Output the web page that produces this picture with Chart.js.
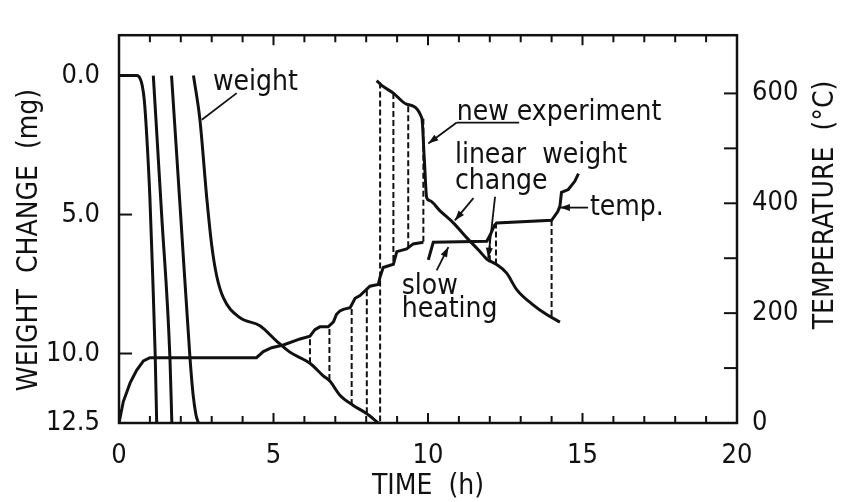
<!DOCTYPE html>
<html>
<head>
<meta charset="utf-8">
<script src="https://cdn.jsdelivr.net/npm/chart.js@4.4.1/dist/chart.umd.min.js"></script>
<style>
  body { margin: 0; background: #fff; }
  canvas { display: block; }
</style>
</head>
<body>
<canvas id="chart" width="844" height="502"></canvas>
<script>
// tick labels
const timeTicks = [0, 5, 10, 15, 20];
const weightTicks = [0, 5, 10, 12.5];
const tempTicks = [0, 200, 400, 600];
const hourMarks = [1, 2, 3, 4, 5, 6, 7, 8, 9, 10, 11, 12, 13, 14, 15, 16, 17, 18, 19];
const weightMarks = [0, 5, 10];
const tempMarks = [100, 200, 300, 400, 500, 600];

// weight curves (h, mg)
const timeA = [0, 0.58, 0.68, 0.75, 0.82, 0.9, 1.0, 1.09, 1.17, 1.22];
const weightA = [0, 0, 0.1, 0.35, 0.9, 2.2, 4.4, 7.2, 10.0, 12.5];
const timeB = [1.11, 1.38, 1.65, 1.71];
const weightB = [0, 5.0, 10.2, 12.5];
const timeC = [1.70, 2.0, 2.30, 2.40, 2.49, 2.57];
const weightC = [0, 5.1, 10.2, 11.5, 12.2, 12.5];
const timeE = [2.41, 2.62, 2.84, 3.0, 3.16, 3.38, 3.9, 4.56, 5.1, 5.53, 6.18, 6.61, 6.83, 7.15, 7.57, 8.0, 8.39];
const weightE = [0, 1.6, 4.4, 6.1, 7.2, 8.0, 8.7, 9.0, 9.55, 9.95, 10.35, 10.8, 11.0, 11.5, 11.86, 12.15, 12.5];
const timeE2 = [8.34, 8.5, 8.88, 9.31, 9.8, 9.88, 9.96, 10.06, 10.39, 10.82, 11.25, 11.68, 11.9, 12.22, 12.54, 12.87, 13.4, 13.84, 14.27];
const weightE2 = [0.18, 0.35, 0.63, 1.03, 1.53, 3.0, 4.4, 4.5, 4.87, 5.3, 5.83, 6.33, 6.6, 6.8, 7.1, 7.7, 8.25, 8.6, 8.87];

// temperature (h, °C)
const tempTime = [0, 0.14, 0.36, 0.57, 0.79, 1.0, 4.45, 4.67, 4.94, 5.32, 5.86, 6.18, 6.34, 6.5, 6.77, 6.94, 7.04, 7.15, 7.26, 7.48, 7.64, 7.8, 8.12, 8.39, 8.45, 8.55, 8.88, 8.99, 9.31, 9.52, 9.85];
const tempVal = [0, 39, 73, 96, 113, 119, 119, 130, 137, 142, 153, 158, 170, 175, 175, 184, 198, 204, 207, 210, 227, 232, 249, 252, 266, 283, 289, 312, 317, 326, 329];
const temp2Time = [10.01, 10.17, 11.9, 12.02, 12.15, 12.22, 14.0, 14.2, 14.27, 14.32, 14.54, 14.75, 14.87];
const temp2Val = [297, 329, 331, 343, 360, 364, 369, 385, 395, 420, 425, 440, 454];

// dashed verticals: weight end (mg) to temperature end (°C)
const dashTime = [6.18, 6.81, 7.53, 8.02, 8.45, 8.88, 9.36, 9.85, 12.0, 12.2, 14.0];
const dashWeight = [10.35, 10.95, 11.85, 12.15, 0.25, 0.63, 1.1, 1.55, 6.68, 6.8, 8.65];
const dashTemp = [158, 175, 215, 243, 0, 289, 318, 329, 343, 363, 369];

const FONT = '"DejaVu Sans Condensed", "DejaVu Sans", sans-serif';
const INK = '#111';

// labels written on the plot (h, mg)
const notes = [
  { text: 'weight', x: 3.04, w: 0.24 },
  { text: 'new experiment', x: 10.93, w: 1.32 },
  { text: 'linear  weight', x: 10.87, w: 2.88 },
  { text: 'change', x: 10.87, w: 3.83 },
  { text: 'temp.', x: 15.24, w: 4.74 },
  { text: 'slow', x: 9.15, w: 7.59 },
  { text: 'heating', x: 9.15, w: 8.43 }
];
const leaders = [
  { from: [3.81, 0.63], to: [2.68, 1.59], arrow: false },
  { from: [10.93, 1.69], to: [12.95, 1.69], arrow: false },
  { from: [10.93, 1.69], to: [10.01, 2.44], arrow: true },
  { from: [11.47, 4.41], to: [10.87, 5.21], arrow: true },
  { from: [12.17, 4.36], to: [11.95, 6.56], arrow: true },
  { from: [15.18, 4.75], to: [14.27, 4.75], arrow: true },
  { from: [10.28, 7.01], to: [10.66, 6.17], arrow: true }
];

const pts = (xs, ys) => xs.map((x, i) => ({ x, y: ys[i] }));
const weightLine = (xs, ys) => ({
  data: pts(xs, ys), yAxisID: 'w', borderColor: INK, borderWidth: 3,
  pointRadius: 0, fill: false, cubicInterpolationMode: 'monotone'
});
const tempLine = (xs, ys) => ({
  data: pts(xs, ys), yAxisID: 't', borderColor: INK, borderWidth: 3,
  pointRadius: 0, fill: false, tension: 0
});

const extras = {
  id: 'extras',
  afterDatasetsDraw(chart) {
    const { ctx, chartArea: a, scales: { x, w, t } } = chart;
    ctx.save();
    ctx.strokeStyle = INK;
    ctx.fillStyle = INK;
    ctx.lineCap = 'butt';

    // dashed connectors
    ctx.setLineDash([6, 3]);
    ctx.lineWidth = 2;
    dashTime.forEach((h, i) => {
      const px = x.getPixelForValue(h);
      ctx.beginPath();
      ctx.moveTo(px, w.getPixelForValue(dashWeight[i]));
      ctx.lineTo(px, t.getPixelForValue(dashTemp[i]));
      ctx.stroke();
    });
    ctx.setLineDash([]);

    // frame + inner ticks
    ctx.lineWidth = 2.5;
    ctx.strokeRect(a.left, a.top, a.right - a.left, a.bottom - a.top);
    ctx.lineWidth = 2;
    hourMarks.forEach(h => {
      const px = x.getPixelForValue(h);
      const len = h % 5 === 0 ? 10 : 7;
      ctx.beginPath();
      ctx.moveTo(px, a.bottom); ctx.lineTo(px, a.bottom - len);
      ctx.moveTo(px, a.top); ctx.lineTo(px, a.top + len);
      ctx.stroke();
    });
    weightMarks.forEach(v => {
      const py = w.getPixelForValue(v);
      ctx.beginPath(); ctx.moveTo(a.left, py); ctx.lineTo(a.left + 13, py); ctx.stroke();
    });
    tempMarks.forEach(v => {
      const py = t.getPixelForValue(v);
      ctx.beginPath(); ctx.moveTo(a.right, py); ctx.lineTo(a.right - 13, py); ctx.stroke();
    });

    // leader lines
    ctx.lineWidth = 1.8;
    leaders.forEach(l => {
      const x1 = x.getPixelForValue(l.from[0]), y1 = w.getPixelForValue(l.from[1]);
      const x2 = x.getPixelForValue(l.to[0]), y2 = w.getPixelForValue(l.to[1]);
      ctx.beginPath(); ctx.moveTo(x1, y1); ctx.lineTo(x2, y2); ctx.stroke();
      if (l.arrow) {
        const ang = Math.atan2(y2 - y1, x2 - x1);
        ctx.save();
        ctx.translate(x2, y2); ctx.rotate(ang);
        ctx.beginPath(); ctx.moveTo(0, 0); ctx.lineTo(-10, -3.5); ctx.lineTo(-10, 3.5); ctx.closePath(); ctx.fill();
        ctx.restore();
      }
    });

    // notes
    ctx.font = '28px ' + FONT;
    ctx.textAlign = 'left';
    ctx.textBaseline = 'middle';
    notes.forEach(n => ctx.fillText(n.text, x.getPixelForValue(n.x), w.getPixelForValue(n.w)));

    // axis titles
    ctx.textAlign = 'center';
    ctx.fillText('TIME  (h)', 428, 487);
    ctx.save(); ctx.translate(30, 240); ctx.rotate(-Math.PI / 2);
    ctx.fillText('WEIGHT  CHANGE  (mg)', 0, 0); ctx.restore();
    ctx.save(); ctx.translate(826, 205); ctx.rotate(-Math.PI / 2);
    ctx.fillText('TEMPERATURE  (°C)', 0, 0); ctx.restore();
    ctx.restore();
  }
};

const tickFont = { family: FONT, size: 27 };

new Chart(document.getElementById('chart'), {
  type: 'line',
  data: {
    datasets: [
      weightLine(timeA, weightA),
      weightLine(timeB, weightB),
      weightLine(timeC, weightC),
      weightLine(timeE, weightE),
      weightLine(timeE2, weightE2),
      tempLine(tempTime, tempVal),
      tempLine(temp2Time, temp2Val)
    ]
  },
  options: {
    responsive: false,
    animation: false,
    layout: { padding: { top: 10 } },
    plugins: { legend: { display: false }, tooltip: { enabled: false } },
    scales: {
      x: {
        type: 'linear', min: 0, max: 20,
        grid: { display: false, drawTicks: false }, border: { display: false },
        afterBuildTicks: s => { s.ticks = timeTicks.map(v => ({ value: v })); },
        afterFit: s => { s.height = 79; },
        ticks: { font: tickFont, color: INK, padding: 17, maxRotation: 0, autoSkip: false }
      },
      w: {
        type: 'linear', position: 'left', reverse: true, min: -1.453, max: 12.5,
        grid: { display: false, drawTicks: false }, border: { display: false },
        afterBuildTicks: s => { s.ticks = weightTicks.map(v => ({ value: v })); },
        afterFit: s => { s.width = 119; },
        ticks: { font: tickFont, color: INK, padding: 19, callback: v => v.toFixed(1) }
      },
      t: {
        type: 'linear', position: 'right', min: 0, max: 706,
        grid: { display: false, drawTicks: false }, border: { display: false },
        afterBuildTicks: s => { s.ticks = tempTicks.map(v => ({ value: v })); },
        afterFit: s => { s.width = 107; },
        ticks: { font: tickFont, color: INK, padding: 15 }
      }
    }
  },
  plugins: [extras]
});
</script>
</body>
</html>
